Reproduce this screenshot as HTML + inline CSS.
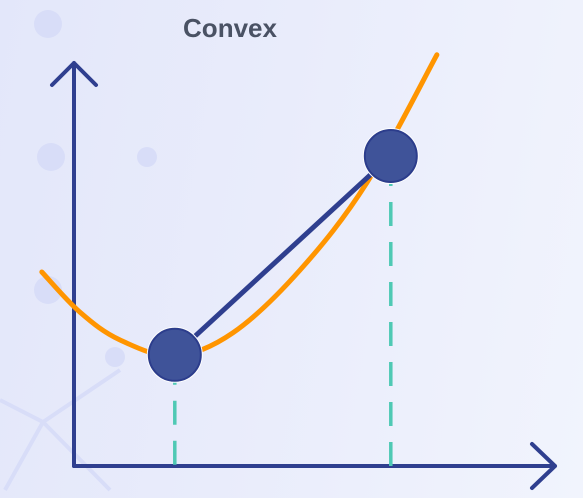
<!DOCTYPE html>
<html><head><meta charset="utf-8"><style>
html,body{margin:0;padding:0;width:583px;height:498px;overflow:hidden}
body{background:linear-gradient(100deg,#e3e7fa 0%,#e9ecfb 45%,#f1f4fd 100%)}
svg{display:block}
</style></head><body>
<svg width="583" height="498" viewBox="0 0 583 498">
<g fill="#d8ddf8">
<circle cx="48" cy="24" r="14"/><circle cx="51" cy="157" r="14"/><circle cx="147" cy="157" r="10"/>
<circle cx="48" cy="290" r="14"/><circle cx="115" cy="357" r="10"/>
<path d="M0 400 L43 422 L120 370 M43 422 L5 490 M43 422 L110 490" stroke="#d8ddf8" stroke-width="4" fill="none"/>
</g>
<text x="230" y="37" text-anchor="middle" font-family="Liberation Sans, sans-serif" font-weight="bold" font-size="26" fill="#4a5264">Convex</text>
<g id="plot"></g>
</svg>
<script>
const curveX=[-0.67,0.12,0.96,2.1,3.31,4.71,6.1,7.56];
const curveY=[4.85,3.85,3.15,2.75,3.33,4.9,7.08,10.28];
const pointX=[2.1,6.6];
const pointY=[2.78,7.75];
const X0=74,Y0=466;
function sx(v){return X0+v*48;}
function sy(v){return Y0-v*40;}
const NS='http://www.w3.org/2000/svg';
const g=document.getElementById('plot');
function mk(tag,attrs){const e=document.createElementNS(NS,tag);for(const k in attrs)e.setAttribute(k,attrs[k]);g.appendChild(e);return e;}
let ya=mk('path',{d:`M${X0} ${Y0} L${X0} 63 M52 85 L${X0} 63 L96 85`,stroke:'#2f3f8f','stroke-width':4,fill:'none','stroke-linecap':'round','stroke-linejoin':'round'});


let xa=mk('path',{d:`M${X0} ${Y0} L555 ${Y0} M532 444 L555 ${Y0} L532 488`,stroke:'#2f3f8f','stroke-width':4,fill:'none','stroke-linecap':'round','stroke-linejoin':'round'});


pointX.forEach((v,i)=>{
 const d=mk('line',{x1:sx(v),y1:sy(pointY[i]),x2:sx(v),y2:Y0,stroke:'#4fc9b4','stroke-width':3.5,'stroke-dasharray':'24 16','stroke-dashoffset':'-6'});
 
 
});
const P=curveX.map((v,i)=>[sx(v),sy(curveY[i])]);
let d=`M${P[0][0]} ${P[0][1]}`;
for(let i=0;i<P.length-1;i++){
 const p0=P[Math.max(i-1,0)],p1=P[i],p2=P[i+1],p3=P[Math.min(i+2,P.length-1)];
 d+=` C${p1[0]+(p2[0]-p0[0])/6} ${p1[1]+(p2[1]-p0[1])/6} ${p2[0]-(p3[0]-p1[0])/6} ${p2[1]-(p3[1]-p1[1])/6} ${p2[0]} ${p2[1]}`;
}
const c=mk('path',{d:d,stroke:'#ff9500','stroke-width':5,fill:'none','stroke-linecap':'round'});


const ch=mk('line',{x1:sx(pointX[0]),y1:sy(pointY[0]),x2:sx(pointX[1]),y2:sy(pointY[1]),stroke:'#2f3f8f','stroke-width':5});


pointX.forEach((v,i)=>{
 const r=mk('circle',{cx:sx(v),cy:sy(pointY[i]),r:28,fill:'#ffffff'});
 
 
 const p=mk('circle',{cx:sx(v),cy:sy(pointY[i]),r:26,fill:'#3f5399',stroke:'#2c3d8c','stroke-width':2});
 
 
});
</script>
</body></html>
